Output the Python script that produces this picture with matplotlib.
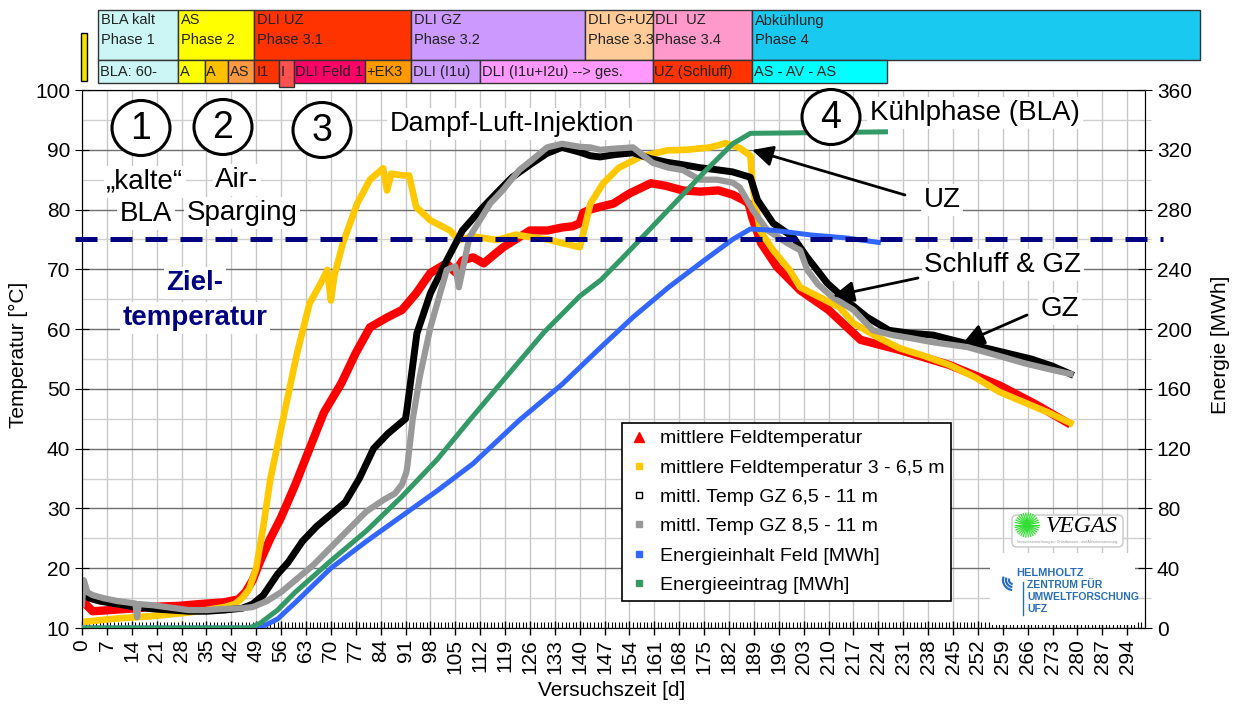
import numpy as np
import matplotlib
matplotlib.use("Agg")
import matplotlib.pyplot as plt
import matplotlib.patches as mpatches
from matplotlib.lines import Line2D
from matplotlib.transforms import Affine2D, blended_transform_factory

plt.rcParams['font.family'] = ['Liberation Sans', 'DejaVu Sans']

# ---------------- data ----------------
# mittlere Feldtemperatur [°C]
red_days = [0, 1, 3, 8, 15, 22, 27, 33, 40, 44, 46, 48, 50, 53, 56, 60, 64, 68, 73, 77,
            81, 86, 90, 94, 98, 102.5, 105, 107, 110, 113, 116, 118.5, 122, 126, 131, 135,
            138, 140, 141, 143, 146, 149.5, 154, 160, 164, 169, 174, 179, 183, 186, 187.5,
            188.5, 191, 195.5, 202, 210, 219, 230, 244, 258, 268, 277]
red_temp = [15, 14, 12.8, 13, 13.3, 13.6, 13.7, 14, 14.3, 14.8, 16, 18, 21, 25, 28.5, 34,
            40, 46, 51, 56, 60.3, 62, 63.2, 66, 69.4, 71, 69.5, 71.5, 72, 71, 72.5, 73.7,
            75, 76.5, 76.5, 77, 77.2, 77.7, 79.5, 80, 80.5, 81, 82.7, 84.4, 84, 83.2, 83,
            83.2, 82.5, 81.6, 81, 78.7, 74.4, 70.4, 66.5, 63.2, 58.2, 56.5, 54, 50.6, 47.5, 44.4]

# mittlere Feldtemperatur 3 - 6,5 m [°C]
yel_days = [0, 5, 10, 15, 20, 25, 30, 35, 40, 43, 45, 47, 49, 51, 53, 56.5, 60.5, 64, 67,
            69, 70, 71, 73.4, 77.4, 81, 84.7, 85.8, 87, 90.3, 92, 94, 98, 103.5, 106, 110,
            116.7, 122, 126, 131, 135, 140, 141, 143, 146.6, 151, 157, 164.6, 170, 176.7,
            181, 185, 188, 188.7, 190.7, 194.4, 199, 202, 207.6, 213, 217, 223.6, 230, 237,
            244, 251, 258, 266, 272, 278]
yel_temp = [11, 11.3, 11.6, 11.8, 12, 12.3, 12.6, 13, 13.5, 14, 15, 16.5, 20, 27, 35, 44.8,
            56, 64.3, 67.5, 69.9, 64.8, 69, 74.4, 81, 85, 86.9, 83.2, 86, 85.7, 85.7, 80.4,
            78.2, 76.5, 74.9, 75.5, 74.9, 75.8, 75.4, 75, 74.4, 73.7, 76, 81, 84.4, 87, 88.8,
            89.9, 90, 90.4, 91.1, 90.3, 89, 83.7, 76.5, 73.2, 69.9, 67, 65.3, 63.7, 61, 58.7,
            56.8, 55.5, 54, 52, 49.5, 47.5, 46, 44.3]

# mittl. Temp GZ 6,5 - 11 m [°C]
blk_days = [0, 2, 5, 10, 15, 20, 25, 30, 35, 40, 45, 48, 51, 55, 58, 62, 66, 70, 74, 78,
            82, 86, 89, 91, 91.5, 94.2, 98, 102.6, 107, 112.8, 117, 121, 126, 130.8, 135,
            140, 143, 145.7, 150, 155, 160, 164.6, 169, 173.8, 178, 183, 188, 190, 194.4,
            200, 204, 209.6, 215, 220.8, 227, 233, 239.4, 246, 253, 260, 267, 273, 278]
blk_temp = [16, 15, 14.5, 14, 13.5, 13.2, 13, 12.8, 12.8, 13, 13.3, 14, 15.5, 19, 21,
            24.5, 27, 29, 31, 35, 40, 42.5, 44, 45, 47, 59.3, 66, 71.5, 76.5, 80.4, 83,
            85.4, 87.5, 89.4, 90.4, 89.6, 89, 88.8, 89.2, 89.5, 88.5, 87.9, 87.5, 87, 86.7,
            86.3, 85.4, 81.6, 77.7, 75.4, 72, 67.7, 64.8, 62, 59.8, 59.3, 59, 58, 57, 56,
            55, 53.8, 52.5]

# mittl. Temp GZ 8,5 - 11 m [°C]
gry_days = [0, 0.5, 1.5, 3, 6, 10, 15, 15.5, 16, 20, 25, 30, 35, 40, 45, 48, 52, 56, 60,
            65, 70, 75, 80, 85, 88, 90, 91.2, 91.5, 93, 95, 98, 102.6, 105, 106, 109, 114.8,
            118, 123, 127, 130.8, 135, 140, 143, 145.7, 150, 155, 158, 160.6, 165, 169,
            173.8, 178.6, 183, 185, 188.7, 192.7, 198.3, 202, 204, 207, 211.2, 217, 222.5,
            228, 233, 239.4, 249, 258, 265, 272, 278]
gry_temp = [14, 18, 16, 15.5, 15, 14.5, 14.1, 11.8, 14, 13.8, 13.4, 13, 13, 13.2, 13.3,
            13.5, 14.5, 16, 18, 20.5, 23.5, 26.5, 29.5, 31.5, 32.5, 34, 36, 37, 44.8, 52,
            60.3, 69.9, 70.5, 67, 75.4, 81, 83, 86.6, 88.5, 90.4, 91, 90.5, 90.4, 90, 90.2,
            90.4, 89, 87.8, 87, 86.6, 85, 85, 84.5, 83.7, 79.9, 76.6, 74.4, 73.2, 69.9, 67.5,
            65.3, 63.2, 59.8, 59, 58.5, 57.8, 57, 55.5, 54.3, 53.3, 52.5]

# Energieinhalt Feld [MWh]
blue_days = [0, 50, 55, 60, 70, 80, 90, 100, 110, 123, 135, 146, 155, 165, 175, 183, 188,
             195, 205, 215, 224]
blue_mwh = [0, 0, 6, 17, 40, 58, 75, 92, 110, 139, 163, 188, 208, 228, 246, 260, 267,
            266, 263, 261, 258]

# Energieeintrag [MWh]
green_days = [0, 47, 50, 55, 60, 70, 80, 90, 100, 109, 120, 130, 140, 146, 153, 165, 175,
              183, 188, 226]
green_mwh = [0, 0, 3, 12, 24, 45, 65, 88, 113, 139, 170, 198, 222, 233, 250, 280, 305,
             324, 331, 332]

ziel_temp = 75

legend_labels = ['mittlere Feldtemperatur', 'mittlere Feldtemperatur 3 - 6,5 m',
                 'mittl. Temp GZ 6,5 - 11 m', 'mittl. Temp GZ 8,5 - 11 m',
                 'Energieinhalt Feld [MWh]', 'Energieeintrag [MWh]']

# phase bar above the chart (boundaries in days)
top_bounds = [4.5, 27, 48.5, 92.5, 141.5, 160.5, 188.5, 314.5]
top_labels = ['BLA kalt\nPhase 1', 'AS\nPhase 2', 'DLI UZ\nPhase 3.1', 'DLI GZ\nPhase 3.2',
              'DLI G+UZ\nPhase 3.3', 'DLI  UZ\nPhase 3.4', 'Abkühlung\nPhase 4']
top_colors = ['#ccf5f5', '#ffff00', '#ff3300', '#cc99ff', '#ffcc99', '#ff99cc', '#19c9f0']

bot_bounds = [4.5, 27, 34.5, 41, 48.5, 55.5, 59.5, 79.5, 92.5, 112, 160.5, 188.5, 226.5]
bot_labels = ['BLA: 60-', 'A', 'A', 'AS', 'I1', 'I', 'DLI Feld 1', '+EK3', 'DLI (I1u)',
              'DLI (I1u+I2u) --> ges.', 'UZ (Schluff)', 'AS - AV - AS']
bot_colors = ['#ccf5f5', '#ffff00', '#ffc000', '#ff9940', '#ff3300', '#ff5050', '#ff0066',
              '#ff9900', '#cc99ff', '#ff99ff', '#ff3300', '#00ffff']

# ---------------- figure ----------------
W, H = 1239, 710
fig = plt.figure(figsize=(W / 100, H / 100), dpi=100)
pix = Affine2D().scale(1 / W, -1 / H).translate(0, 1) + fig.transFigure

ax = fig.add_axes([82 / W, 1 - 628 / H, 1063 / W, 538 / H])
ax2 = ax.twinx()

ax.plot(red_days, red_temp, color='#ff0000', lw=6, solid_joinstyle='round', zorder=3)
ax.plot(yel_days, yel_temp, color='#ffc800', lw=4.8, solid_joinstyle='round', zorder=3)
ax.plot(blk_days, blk_temp, color='black', lw=5, solid_joinstyle='round', zorder=3)
ax.plot(gry_days, gry_temp, color='#999999', lw=4.5, solid_joinstyle='round', zorder=3)
ax2.plot(blue_days, blue_mwh, color='#3366ff', lw=3.6, zorder=3)
ax2.plot(green_days, green_mwh, color='#339966', lw=3.6, zorder=3)
ax2.plot([-2, 304], [ziel_temp, ziel_temp], transform=ax.transData, color='#000080',
         lw=3.6, dashes=(4.4, 2.6), clip_on=False, zorder=5)

ax.set_xlim(0, 299)
ax.set_ylim(10, 100)
ax2.set_ylim(0, 360)

xt = np.arange(0, 295, 7)
ax.set_xticks(xt)
ax.set_xticks(np.arange(0, 300, 1), minor=True)
ax.set_xticklabels([str(v) for v in xt], rotation=90, fontsize=15)
ax.set_yticks(np.arange(10, 101, 10))
ax.set_yticks(np.arange(15, 100, 10), minor=True)
ax.grid(True, axis='x', which='major', color='#c8c8c8', lw=1)
ax.grid(True, axis='y', which='major', color='#707070', lw=1)
ax.grid(True, axis='y', which='minor', color='#d0d0d0', lw=1)
ax.set_axisbelow(True)
ax.tick_params(axis='x', which='major', direction='inout', length=10, width=1, pad=3)
ax.tick_params(axis='x', which='minor', direction='in', length=4, width=0.8)
ax.tick_params(axis='y', which='major', direction='inout', length=10, labelsize=15)
ax.tick_params(axis='y', which='minor', length=0)
ax2.set_yticks(np.arange(0, 361, 40))
ax2.set_yticks(np.arange(20, 360, 40), minor=True)
ax2.tick_params(axis='y', which='major', direction='inout', length=10, labelsize=15)
ax2.tick_params(axis='y', which='minor', direction='inout', length=8, color='#c0c0c0')

handles = [
    Line2D([], [], ls='none', marker='^', color='#ff0000', ms=7),
    Line2D([], [], ls='none', marker='s', color='#ffc800', ms=5),
    Line2D([], [], ls='none', marker='s', mfc='white', mec='black', ms=5),
    Line2D([], [], ls='none', marker='s', color='#999999', ms=5),
    Line2D([], [], ls='none', marker='s', color='#3366ff', ms=5),
    Line2D([], [], ls='none', marker='s', color='#339966', ms=5),
]
leg = ax2.legend(handles, legend_labels, loc='upper left',
                 bbox_to_anchor=((622 - 82) / 1063, (628 - 423) / 538), borderaxespad=0,
                 fancybox=False, edgecolor='black', framealpha=1, fontsize=14,
                 handlelength=1.0, handletextpad=0.6, labelspacing=0.6, borderpad=0.35)
leg.get_frame().set_linewidth(1.2)
leg.set_zorder(10)

# axis titles
fig.text(18 / W, 1 - 355 / H, 'Temperatur [°C]', rotation=90, ha='center', va='center', fontsize=15)
fig.text(1220 / W, 1 - 345 / H, 'Energie [MWh]', rotation=90, ha='center', va='center', fontsize=15)
fig.text(612 / W, 1 - 690 / H, 'Versuchszeit [d]', ha='center', va='center', fontsize=15)

# ---------------- phase bar ----------------
bt = blended_transform_factory(ax.transData, pix)
for i, lab in enumerate(top_labels):
    x0, x1 = top_bounds[i], top_bounds[i + 1]
    r = mpatches.Rectangle((x0, 10), x1 - x0, 50, transform=bt, fc=top_colors[i],
                           ec='#333333', lw=1)
    fig.add_artist(r)
    t = fig.text(x0 + 0.8, 13.5, lab, transform=bt, ha='left', va='top', fontsize=10.5,
                 linespacing=1.5, color='#222222')
    t.set_clip_path(r)
for i, lab in enumerate(bot_labels):
    x0, x1 = bot_bounds[i], bot_bounds[i + 1]
    hgt = 27 if lab == 'I' else 23
    r = mpatches.Rectangle((x0, 60), x1 - x0, hgt, transform=bt, fc=bot_colors[i],
                           ec='#333333', lw=1)
    fig.add_artist(r)
    t = fig.text(x0 + 0.5, 72, lab, transform=bt, ha='left', va='center', fontsize=10.5,
                 color='#222222')
    t.set_clip_path(r)
fig.add_artist(mpatches.Rectangle((81, 33), 6, 48, transform=pix, fc='#f5e000', ec='black', lw=1))

# ---------------- annotations ----------------
def ptext(x, y, s, box=True, **kw):
    bb = dict(boxstyle='square,pad=0.1', fc='white', ec='none') if box else None
    return fig.text(x, y, s, transform=pix, ha='center', va='center', bbox=bb, zorder=6, **kw)

for cx, cy, s in [(141, 128, '1'), (223, 127, '2'), (322, 130, '3'), (831, 117, '4')]:
    fig.add_artist(mpatches.Ellipse((cx, cy), 58, 55, transform=pix, fc='white', ec='black',
                                    lw=2.2, zorder=5))
    ptext(cx, cy + 1, s, box=False, fontsize=27)

ptext(145, 182, '„kalte“', fontsize=20)
ptext(146, 214, 'BLA', fontsize=20)
ptext(237, 180, 'Air-', fontsize=20)
ptext(242, 213, 'Sparging', fontsize=20)
ptext(512, 124, 'Dampf-Luft-Injektion', fontsize=19.5)
ptext(975, 113, 'Kühlphase (BLA)', fontsize=20)
ptext(195, 283, 'Ziel-', fontsize=20, fontweight='bold', color='#000080')
ptext(195, 318, 'temperatur', fontsize=20, fontweight='bold', color='#000080')
ptext(942, 200, 'UZ', fontsize=20)
ptext(1003, 265, 'Schluff & GZ', fontsize=20)
ptext(1060, 309, 'GZ', fontsize=20)

for a, b in [((905, 195), (752, 150)), ((918, 278), (833, 296)), ((1027, 315), (963, 343))]:
    fig.add_artist(mpatches.FancyArrowPatch(a, b, transform=pix, zorder=6, color='black',
                                            lw=2, arrowstyle='-|>,head_length=0.7,head_width=0.35',
                                            mutation_scale=18, shrinkA=0, shrinkB=0))

# ---------------- logos ----------------
fig.add_artist(mpatches.FancyBboxPatch((1012, 515), 111, 32, transform=pix,
                                       boxstyle='round,pad=0,rounding_size=5',
                                       fc='white', ec='#c8c8c8', lw=1, zorder=5))
for ang in np.linspace(0, 2 * np.pi, 30, endpoint=False):
    fig.add_artist(Line2D([1027, 1027 + 12 * np.cos(ang)], [525, 525 + 12 * np.sin(ang)],
                          transform=pix, color='#33dd33', lw=0.9, zorder=6))
ptext(1082, 526, 'VEGAS', box=False, fontsize=17, family='Liberation Serif', style='italic')
ptext(1067, 542, 'Versuchseinrichtung zur Grundwasser- und Altlastensanierung', box=False,
      fontsize=2.6, color='#999999')

fig.add_artist(mpatches.Rectangle((990, 553), 145, 72, transform=pix, fc='white', ec='none', zorder=5))
for rr in [10, 7, 4]:
    fig.add_artist(mpatches.Arc((1013, 580), 2 * rr, 2 * rr, theta1=95, theta2=200, transform=pix,
                                color='#2a6ebb', lw=1.6, zorder=6))
fig.add_artist(Line2D([1023, 1023], [582, 615], transform=pix, color='#2a6ebb', lw=1, zorder=6))
fig.text(1016, 573, 'HELMHOLTZ', transform=pix, ha='left', va='center', fontsize=8,
         fontweight='bold', color='#2a6ebb', zorder=6)
for yy, s in [(585, 'ZENTRUM FÜR'), (597, 'UMWELTFORSCHUNG'), (609, 'UFZ')]:
    fig.text(1027, yy, s, transform=pix, ha='left', va='center', fontsize=7.5,
             fontweight='bold', color='#2a6ebb', zorder=6)

fig.savefig('out.png', dpi=100)
